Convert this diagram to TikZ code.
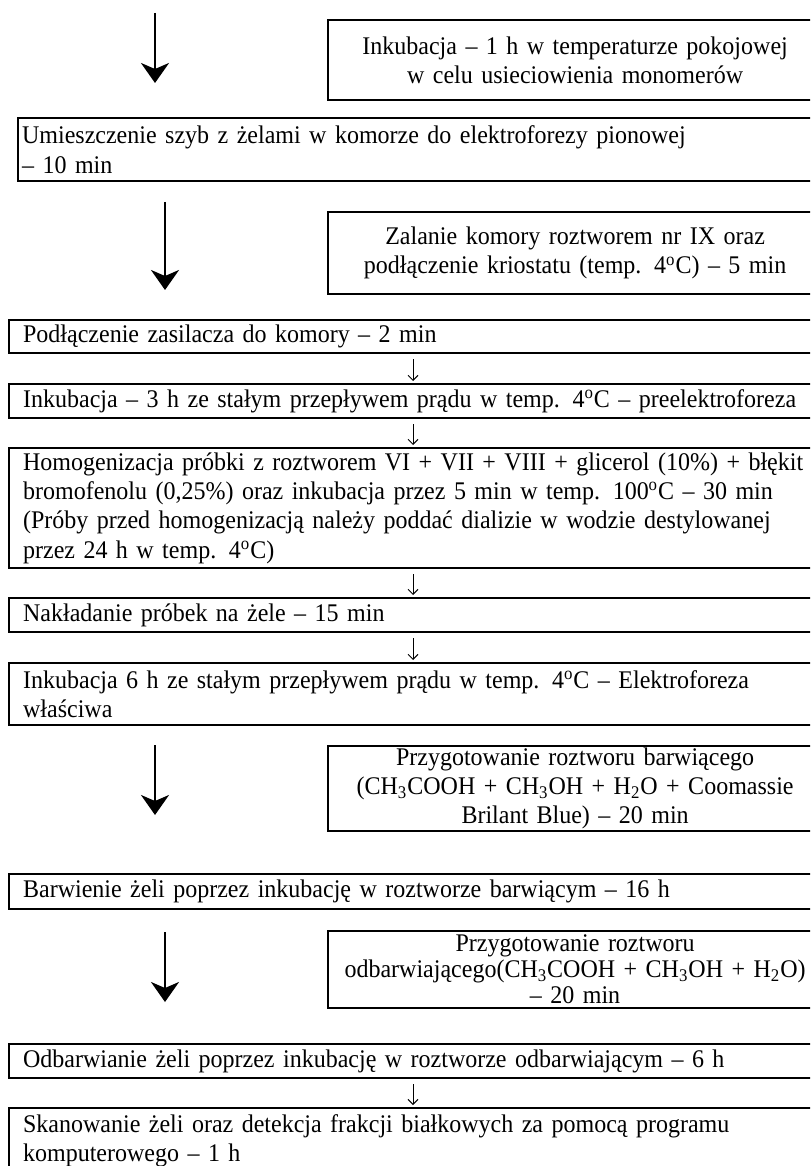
\documentclass[tikz,border=0pt]{standalone}
\usepackage{fontspec}
\setmainfont{Liberation Serif}[FakeStretch=0.945]
\usetikzlibrary{arrows.meta}
\hyphenpenalty=10000
\exhyphenpenalty=10000
\newcommand{\steptext}{\fontsize{12.7}{14.6}\selectfont}
\newcommand{\fullline}[1]{\makebox[391pt][s]{#1}}
\newcommand{\degC}{\textsuperscript{o}C}
\tikzset{
  stepbox/.style={draw, line width=1.1pt, anchor=north west, inner xsep=7pt, inner ysep=0pt,
                  text width=391pt, align=left, font=\steptext},
  sidebox/.style={draw, line width=1.1pt, anchor=north west, inner xsep=3pt, inner ysep=0pt,
                  text width=241pt, align=center, font=\steptext},
  bigarrow/.style={line width=1.2pt, -{Stealth[length=10pt, width=14pt, inset=3pt]}},
  smallarrow/.style={line width=0.5pt, -{Straight Barb[length=2.5pt, width=5pt]},
                     shorten <=2.5pt, shorten >=1pt},
}

\begin{document}
\begin{tikzpicture}[x=0.5pt, y=-0.5pt]
\useasboundingbox (0,0) rectangle (810,1166);
\clip (0,0) rectangle (810,1166);
% side steps (right column) with the big arrows
\node[sidebox, minimum height=40pt] (b1) at (327,19)
  {Inkubacja -- 1 h w temperaturze pokojowej\\ w celu usieciowienia monomerów};
\node[stepbox, inner xsep=2pt, text width=396pt, minimum height=31.5pt] (b2) at (17,117)
  {Umieszczenie szyb z żelami w komorze do elektroforezy pionowej\\ -- 10 min};
\node[sidebox, minimum height=41pt] (b3) at (327,211)
  {Zalanie komory roztworem nr IX oraz\\ podłączenie kriostatu (temp. 4\degC) -- 5 min};
% main column
\node[stepbox, minimum height=16.5pt] (b4) at (8,319)
  {Podłączenie zasilacza do komory -- 2 min};
\node[stepbox, minimum height=17pt] (b5) at (8,383)
  {Inkubacja -- 3 h ze stałym przepływem prądu w temp. 4\degC{} -- preelektroforeza};
\node[stepbox, minimum height=60pt] (b6) at (8,447)
  {\fullline{Homogenizacja próbki z roztworem VI + VII + VIII + glicerol (10\%) + błękit}\\
   \fullline{bromofenolu (0,25\%) oraz inkubacja przez 5 min w temp. 100\degC{} -- 30 min}\\
   \fullline{(Próby przed homogenizacją należy poddać dializie w wodzie destylowanej}\\
   przez 24 h w temp. 4\degC)};
\node[stepbox, minimum height=17pt] (b7) at (8,597)
  {Nakładanie próbek na żele -- 15 min};
\node[stepbox, minimum height=31pt] (b8) at (8,662)
  {\fullline{Inkubacja 6 h ze stałym przepływem prądu w temp. 4\degC{} -- Elektroforeza}\\
   właściwa};
\node[sidebox, minimum height=42.5pt] (b9) at (327,745)
  {Przygotowanie roztworu barwiącego\\
   (CH\textsubscript{3}COOH + CH\textsubscript{3}OH + H\textsubscript{2}O + Coomassie\\
   Brilant Blue) -- 20 min};
\node[stepbox, minimum height=17.5pt] (b10) at (8,873)
  {Barwienie żeli poprzez inkubację w roztworze barwiącym -- 16 h};
\node[sidebox, minimum height=38.5pt, font=\fontsize{12.7}{13}\selectfont] (b11) at (327,930)
  {Przygotowanie roztworu\\
   odbarwiającego(CH\textsubscript{3}COOH + CH\textsubscript{3}OH + H\textsubscript{2}O)\\
   -- 20 min};
\node[stepbox, minimum height=17pt] (b12) at (8,1043)
  {Odbarwianie żeli poprzez inkubację w roztworze odbarwiającym -- 6 h};
\node[stepbox, minimum height=32.5pt] (b13) at (8,1107)
  {Skanowanie żeli oraz detekcja frakcji białkowych za pomocą programu\\
   komputerowego -- 1 h};
% big arrows beside the side steps
\coordinate (a1s) at (155,13);  \coordinate (a1e) at (155,83);
\coordinate (a2s) at (165,202); \coordinate (a2e) at (165,290);
\coordinate (a3s) at (155,745); \coordinate (a3e) at (155,815);
\coordinate (a4s) at (165,932); \coordinate (a4e) at (165,1002);
\foreach \i in {1,2,3,4}
  \draw[bigarrow] (a\i s) -- (a\i e);
% small arrows between stacked steps
\coordinate (ax) at (413,0);
\foreach \u/\v in {b4/b5, b5/b6, b6/b7, b7/b8, b12/b13}
  \draw[smallarrow] (\u.south -| ax) -- (\v.north -| ax);
\end{tikzpicture}
\end{document}
